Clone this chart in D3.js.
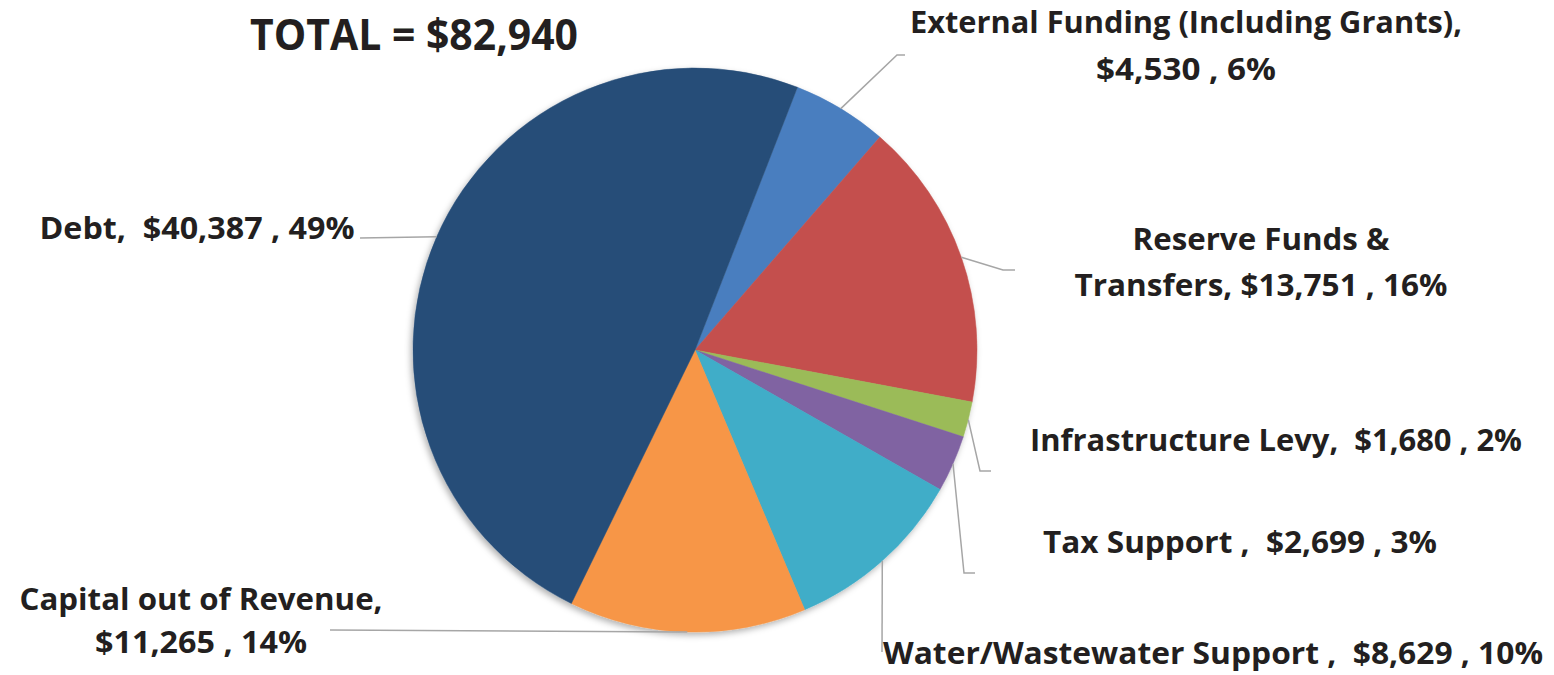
<!DOCTYPE html>
<html>
<head>
<meta charset="utf-8">
<script src="https://cdn.jsdelivr.net/npm/d3@7"></script>
<style>
  body { margin: 0; background: #fff; }
  text { font-family: "Open Sans", "DejaVu Sans Condensed", sans-serif; font-weight: bold; fill: #231f20; white-space: pre; }
</style>
</head>
<body>
<div id="chart"></div>
<script>
// data, in slice order (clockwise from the top-right)
const categories = ["External Funding (Including Grants)", "Reserve Funds & Transfers", "Infrastructure Levy",
    "Tax Support", "Water/Wastewater Support", "Capital out of Revenue", "Debt"];
const values = [4530, 13751, 1680, 2699, 8629, 11265, 40387];
const percents = ["6%", "16%", "2%", "3%", "10%", "14%", "49%"];
const colors = ["#4a7ebf", "#c4504d", "#9bbb59", "#8064a2", "#3fadc8", "#f79646", "#284e78"];
const labelLines = [
    ["External Funding (Including Grants),", "$4,530 , 6%"],
    ["Reserve Funds &", "Transfers, $13,751 , 16%"],
    ["Infrastructure Levy,  $1,680 , 2%"],
    ["Tax Support ,  $2,699 , 3%"],
    ["Water/Wastewater Support ,  $8,629 , 10%"],
    ["Capital out of Revenue,", "$11,265 , 14%"],
    ["Debt,  $40,387 , 49%"]
];
const total = "TOTAL = $82,940";

const width = 1554, height = 675;
const cx = 695, cy = 350, radius = 282;
const startAngle = 21.3 * Math.PI / 180;

// label layout: center x, baselines, text widths, leader elbow and end
const layout = [
    {x: 1186, y: [33, 80], w: [552, 180], elbow: [897, 55], end: [905, 55]},
    {x: 1261, y: [250, 296], w: [257, 373], elbow: [1003, 270], end: [1015, 270]},
    {x: 1276, y: [451], w: [492], elbow: [980, 471], end: [991, 471]},
    {x: 1240, y: [553], w: [394], elbow: [964, 573], end: [975, 573]},
    {x: 1213, y: [664], w: [660], elbow: null, end: [882, 652]},
    {x: 201, y: [610, 653], w: [363, 212], elbow: null, end: [330, 630]},
    {x: 197, y: [239], w: [315], elbow: null, end: [360, 238]}
];

const data = categories.map((c, i) => ({name: c, value: values[i], pct: percents[i], color: colors[i], lines: labelLines[i], lay: layout[i]}));

let svg = d3.select("#chart").append("svg")
    .attr("width", width).attr("height", height)
    .attr("viewBox", [0, 0, width, height]);

let defs = svg.append("defs");
let f = defs.append("filter").attr("id", "shadow").attr("x", "-10%").attr("y", "-10%").attr("width", "120%").attr("height", "120%");
f.append("feDropShadow").attr("dx", -2).attr("dy", 3).attr("stdDeviation", 3).attr("flood-color", "#000").attr("flood-opacity", 0.3);

const pie = d3.pie().sort(null).value(d => d.value)
    .startAngle(startAngle).endAngle(startAngle + 2 * Math.PI);
const arcs = pie(data);
const arc = d3.arc().innerRadius(0).outerRadius(radius);

let g = svg.append("g").attr("transform", `translate(${cx},${cy})`);
g.append("g").attr("filter", "url(#shadow)")
    .selectAll("path")
    .data(arcs)
    .join("path")
    .attr("d", arc)
    .attr("fill", d => d.data.color)
    .attr("stroke", d => d.data.color)
    .attr("stroke-width", 0.5);

// leader lines from the slice edge at its mid angle
const line = d3.line();
svg.append("g").selectAll("path")
    .data(arcs)
    .join("path")
    .attr("fill", "none")
    .attr("stroke", "#a6a6a6")
    .attr("stroke-width", 1.5)
    .attr("d", d => {
        const a = (d.startAngle + d.endAngle) / 2;
        const p0 = [cx + radius * Math.sin(a), cy - radius * Math.cos(a)];
        const pts = [p0];
        if (d.data.lay.elbow) pts.push(d.data.lay.elbow);
        pts.push(d.data.lay.end);
        return line(pts);
    });

// labels
let lab = svg.append("g").selectAll("g")
    .data(data)
    .join("g");
lab.each(function(d) {
    d3.select(this).selectAll("text")
        .data(d.lines)
        .join("text")
        .attr("x", d.lay.x)
        .attr("y", (t, i) => d.lay.y[i])
        .attr("text-anchor", "middle")
        .attr("font-size", 30.5)
        .attr("textLength", (t, i) => d.lay.w[i])
        .attr("lengthAdjust", "spacingAndGlyphs")
        .text(t => t);
});

svg.append("text")
    .attr("x", 414).attr("y", 50)
    .attr("text-anchor", "middle")
    .attr("font-size", 43)
    .attr("textLength", 328)
    .attr("lengthAdjust", "spacingAndGlyphs")
    .text(total);
</script>
</body>
</html>
